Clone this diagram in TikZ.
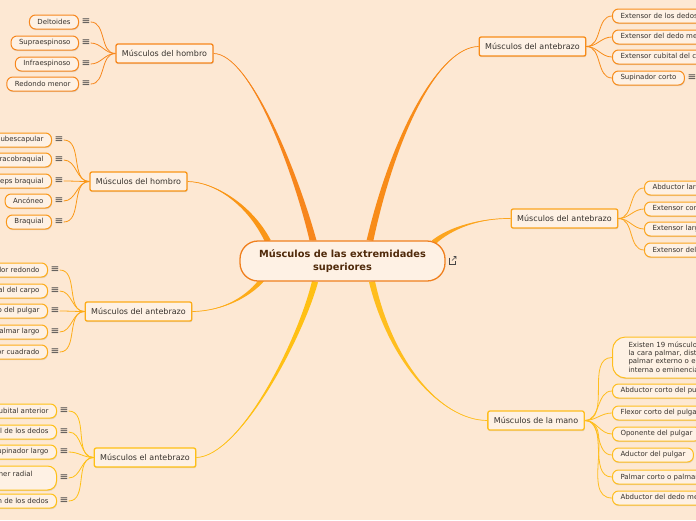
\documentclass[tikz,border=0pt]{standalone}
\usepackage{fontspec}
\setmainfont{DejaVu Sans}
\usetikzlibrary{calc,positioning,backgrounds,shadows}
\definecolor{fondo}{RGB}{253,232,211}
\definecolor{relleno}{RGB}{254,241,228}
\definecolor{texto}{RGB}{55,50,45}
\definecolor{titulo}{RGB}{80,42,10}
\definecolor{gris}{RGB}{70,70,70}
\definecolor{centroborde}{RGB}{240,128,30}
\definecolor{naranjaA}{RGB}{247,134,28}
\definecolor{naranjaB}{RGB}{250,150,22}
\definecolor{naranjaC}{RGB}{253,172,25}
\definecolor{amarilloD}{RGB}{255,192,20}
\definecolor{naranjaE}{RGB}{248,140,25}
\definecolor{naranjaF}{RGB}{252,165,30}
\definecolor{amarilloG}{RGB}{255,190,30}
\newcommand\tronco[6]{%
  \fill[#1] #2 .. controls #3 and ($#4+0.6*#6$) .. ($#5+#6$) -- ($#5-#6$) .. controls ($#4-0.6*#6$) and #3 .. #2 -- cycle;
  \draw[#1, line width=0.7pt] #2 .. controls #3 and #4 .. #5;}
\begin{document}
\begin{tikzpicture}[x=1pt, y=-1pt,
  every node/.style={font=\fontsize{7}{8.3}\selectfont, text=texto}
]
\tikzset{
  sombra/.style={drop shadow={shadow xshift=0.5pt, shadow yshift=-1.2pt, opacity=0.25, fill=black!45}},
  rama/.style={draw=#1, fill=relleno, line width=1.3pt, rounded corners=2pt, minimum height=19pt,
    inner xsep=6pt, inner ysep=0pt, font=\fontsize{8}{9}\selectfont, sombra},
  hoja/.style={draw=#1, fill=relleno, line width=1pt, rounded corners=6pt, minimum height=14pt,
    inner xsep=8pt, inner ysep=0pt, sombra},
  menu/.style={text=gris, inner sep=0pt, font=\fontsize{10.5}{10.5}\selectfont},
  enlace/.style={draw=#1, line width=0.8pt}
}
\useasboundingbox (0,0) rectangle (696,520);
\begin{scope}[on background layer]
  \fill[fondo] (0,0) rectangle (696,520);
\end{scope}

\node[draw=centroborde, fill=relleno, line width=1.3pt, rounded corners=18pt, minimum width=205pt,
  minimum height=40pt, align=center, text=titulo, font=\bfseries\fontsize{9.8}{12.5}\selectfont]
  (centro) at (342.5,261) {Músculos de las extremidades\\superiores};
\draw[gris, line width=0.6pt] (449,257.5) -- (449,264) -- (455.5,264) -- (455.5,261);
\draw[gris, line width=0.6pt] (452,260.5) -- (456,256.5) (453.5,256.5) -- (456,256.5) -- (456,259);

\node[rama=naranjaA] (hombroA) at (164.5,53.5) {Músculos del hombro};
\node[rama=naranjaB] (hombroB) at (138.5,181.5) {Músculos del hombro};
\node[rama=naranjaC] (antebrazoA) at (138.5,311.5) {Músculos del antebrazo};
\node[rama=amarilloD] (antebrazoB) at (145,457.5) {Músculos el antebrazo};
\node[rama=naranjaE] (antebrazoC) at (532.5,46.5) {Músculos del antebrazo};
\node[rama=naranjaF] (antebrazoD) at (564.5,218.5) {Músculos del antebrazo};
\node[rama=amarilloG] (mano) at (536,420.5) {Músculos de la mano};

\coordinate (tA) at ($(centro.north)+(-29.5,0)$);
\coordinate (tB) at ($(centro.north)+(-74.5,1)$);
\coordinate (tC) at ($(centro.south)+(-80.5,-2)$);
\coordinate (tD) at ($(centro.south)+(-27.5,0)$);
\coordinate (tE) at ($(centro.north)+(27.5,0)$);
\coordinate (tF) at ($(centro.north east)+(-12,2)$);
\coordinate (tG) at ($(centro.south)+(29.5,0)$);
\begin{scope}[on background layer]
  \tronco{naranjaA}{(hombroA.east)}{(250,54)}{(295,170)}{(tA)}{(3.5,0)}
  \tronco{naranjaB}{(hombroB.east)}{(215,182)}{(250,205)}{(tB)}{(2.7,-1.3)}
  \tronco{naranjaC}{(antebrazoA.east)}{(225,311)}{(250,295)}{(tC)}{(2,1.5)}
  \tronco{amarilloD}{(antebrazoB.east)}{(240,456)}{(300,340)}{(tD)}{(3,0.7)}
  \tronco{naranjaE}{(antebrazoC.west)}{(440,47)}{(395,130)}{(tE)}{(3.3,0.5)}
  \tronco{naranjaF}{(antebrazoD.west)}{(480,218)}{(450,228)}{(tF)}{(1.7,1.9)}
  \tronco{amarilloG}{(mano.west)}{(440,420)}{(390,360)}{(tG)}{(3,-0.5)}
\end{scope}

\foreach \t/\y [count=\i] in {Deltoides/22, Supraespinoso/43, Infraespinoso/64, Redondo menor/84}{
  \node[hoja=naranjaA, anchor=east] (hA\i) at (79,\y) {\t};
  \node[menu, right=2.5pt of hA\i] (mA\i) {≡};
  \begin{scope}[on background layer]
    \draw[enlace=naranjaA] (mA\i.east) to[out=0, in=180] (hombroA.west);
  \end{scope}
}
\foreach \t/\y [count=\i] in {Subescapular/140, Coracobraquial/160, Bíceps braquial/181, Ancóneo/201, Braquial/222}{
  \node[hoja=naranjaB, anchor=east] (hB\i) at (52,\y) {\t};
  \node[menu, right=2.5pt of hB\i] (mB\i) {≡};
  \begin{scope}[on background layer]
    \draw[enlace=naranjaB] (mB\i.east) to[out=0, in=180] (hombroB.west);
  \end{scope}
}
\foreach \t/\y [count=\i] in {Pronador redondo/270, Flexor radial del carpo/291, Flexor largo del pulgar/311,
    Palmar largo/332, Pronador cuadrado/352}{
  \node[hoja=naranjaC, anchor=east] (hC\i) at (48,\y) {\t};
  \node[menu, right=2.5pt of hC\i] (mC\i) {≡};
  \begin{scope}[on background layer]
    \draw[enlace=naranjaC] (mC\i.east) to[out=0, in=180] (antebrazoA.west);
  \end{scope}
}
\node[hoja=amarilloD, anchor=east, rounded corners=9pt, text width=61pt, align=left, minimum height=24pt]
  (hD4) at (57,478) {Primer radial\\\mbox{}};
\foreach \t/\y/\i in {Cubital anterior/411/1, Flexor superficial de los dedos/432/2, Supinador largo/452/3,
    {}/478/4, Extensor común de los dedos/501/5}{
  \ifnum\i=4\else
    \node[hoja=amarilloD, anchor=east] (hD\i) at (57,\y) {\t};
  \fi
  \node[menu, right=2.5pt of hD\i] (mD\i) {≡};
  \begin{scope}[on background layer]
    \draw[enlace=amarilloD] (mD\i.east) to[out=0, in=180] (antebrazoB.west);
  \end{scope}
}

\foreach \t/\y [count=\i] in {Extensor de los dedos/16, Extensor del dedo meñique/37,
    Extensor cubital del carpo/57, Supinador corto/78}{
  \node[hoja=naranjaE, anchor=west] (hE\i) at (612,\y) {\t};
  \begin{scope}[on background layer]
    \draw[enlace=naranjaE] (antebrazoC.east) to[out=0, in=180] (hE\i.west);
  \end{scope}
}
\node[menu, right=2.5pt of hE4] (mE4) {≡};
\foreach \t/\y [count=\i] in {Abductor largo del pulgar/188, Extensor corto del pulgar/209,
    Extensor largo del pulgar/229, Extensor del índice/250}{
  \node[hoja=naranjaF, anchor=west] (hF\i) at (644,\y) {\t};
  \begin{scope}[on background layer]
    \draw[enlace=naranjaF] (antebrazoD.east) to[out=0, in=180] (hF\i.west);
  \end{scope}
}
\node[hoja=amarilloG, anchor=west, rounded corners=13pt, text width=190pt, align=left,
  inner xsep=16pt, minimum height=41pt] (hG1) at (612,357.5)
  {Existen 19 músculos en la mano, en\\la cara palmar, distribuidos en región\\palmar externo o eminencia tenar, palmar\\interna o eminencia hipotenar y palmar media};
\foreach \t/\y [count=\i from 2] in {Abductor corto del pulgar/391, Flexor corto del pulgar/413,
    Oponente del pulgar/434, Aductor del pulgar/455, Palmar corto o palmar cutáneo/477,
    Abductor del dedo meñique/498}{
  \node[hoja=amarilloG, anchor=west] (hG\i) at (612,\y) {\t};
}
\begin{scope}[on background layer]
  \foreach \i in {1,...,7}{
    \draw[enlace=amarilloG] (mano.east) to[out=0, in=180] (hG\i.west);
  }
\end{scope}
\end{tikzpicture}
\end{document}
